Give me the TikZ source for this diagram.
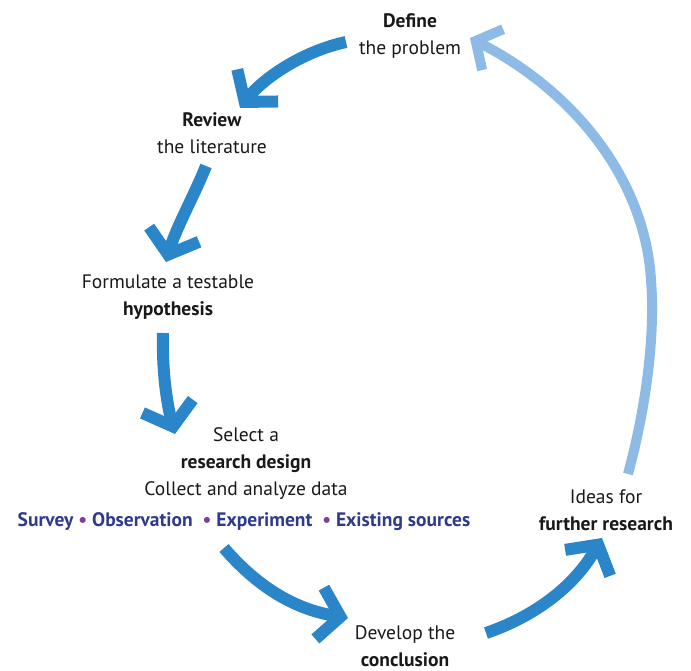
\documentclass[tikz,border=0pt]{standalone}
\usepackage{fontspec}
\setmainfont{PT Sans}
\usetikzlibrary{arrows.meta}

\definecolor{stepblue}{HTML}{2A86C9}
\definecolor{backblue}{HTML}{8DBBE5}
\definecolor{methodnavy}{HTML}{2E3A8C}
\definecolor{dotpurple}{HTML}{7B3F98}

\tikzset{
	label/.style={align=center, inner sep=0pt, text=black!90, font=\fontsize{19.5}{27}\selectfont},
	flow/.style={line width=12pt, draw=stepblue, -{Straight Barb[length=21pt,width=52pt]}},
	backflow/.style={line width=10pt, draw=backblue, -{Straight Barb[length=19pt,width=46pt]}}
}

\begin{document}
\begin{tikzpicture}[x=1pt, y=-1pt]
	\useasboundingbox (0,0) rectangle (691,671);

	% the steps of the cycle
	\node[label] (define) at (410,36) {\textbf{Define}\\the problem};
	\node[label] (review) at (212,133) {\textbf{Review}\\the literature};
	\node[label] (hypo) at (168,297) {Formulate a testable\\\textbf{hypothesis}};
	\node[label] (design) at (246,464) {Select a\\\textbf{research design}\\Collect and analyze data};
	\node[label, text=methodnavy] (methods) at (244,522)
		{\textbf{Survey \textcolor{dotpurple}{\textbullet} Observation \ \textcolor{dotpurple}{\textbullet} Experiment \ \textcolor{dotpurple}{\textbullet} Existing sources}};
	\node[label] (concl) at (405,646) {Develop the\\\textbf{conclusion}};
	\node[label] (ideas) at (606,510) {Ideas for\\\textbf{further research}};

	% arrow ends
	\coordinate (a1s) at (346,42);
	\coordinate (a1e) at (240,108);
	\coordinate (a2s) at (206,166);
	\coordinate (a2e) at (166,262);
	\coordinate (a3s) at (163,333);
	\coordinate (a3e) at (175,434);
	\coordinate (a4s) at (224,548);
	\coordinate (a4e) at (348,618);
	\coordinate (a5s) at (486,633);
	\coordinate (a5e) at (602,538);
	\coordinate (a6s) at (628,474);
	\coordinate (a6e) at (470,38);

	\draw[flow] (a1s) .. controls (300,52) and (262,80) .. (a1e);
	\draw[flow] (a2s) .. controls (194,196) and (176,228) .. (a2e);
	\draw[flow] (a3s) .. controls (162,372) and (167,404) .. (a3e);
	\draw[flow] (a4s) .. controls (262,592) and (300,610) .. (a4e);
	\draw[flow] (a5s) .. controls (530,618) and (572,590) .. (a5e);
	\draw[backflow] (a6s) .. controls (648,400) and (655,330) .. (651,280)
		.. controls (645,180) and (575,92) .. (a6e);
\end{tikzpicture}
\end{document}
